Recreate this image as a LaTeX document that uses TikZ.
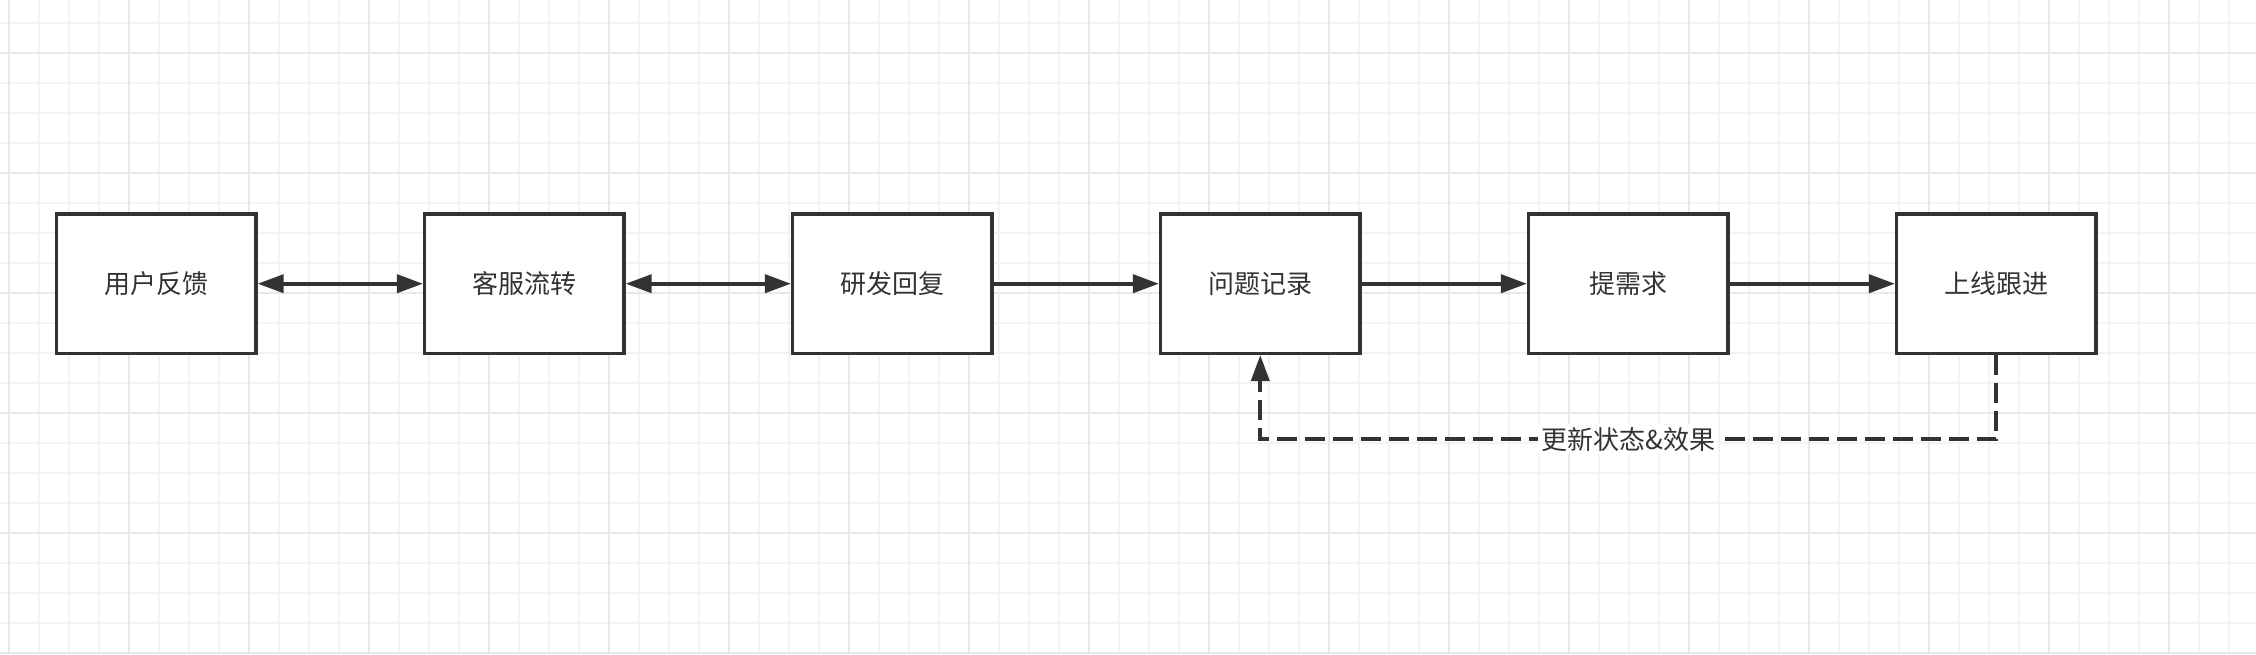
\documentclass[tikz,border=0pt]{standalone}
\usepackage{fontspec}
\setmainfont{Noto Sans CJK SC}
\usetikzlibrary{arrows.meta}

\definecolor{inkgray}{HTML}{333333}
\definecolor{minorline}{RGB}{243,243,243}
\definecolor{majorline}{RGB}{232,232,232}

\tikzset{
  stepbox/.style={draw=inkgray, line width=1.7pt, fill=white,
    minimum width=99.65pt, minimum height=69.65pt, inner sep=0pt,
    text=inkgray, font=\fontsize{13pt}{16pt}\selectfont},
  flow/.style={draw=inkgray, line width=1.9pt,
    -{Triangle[length=13pt,width=9pt]}},
  twoway/.style={flow, {Triangle[length=13pt,width=9pt]}-{Triangle[length=13pt,width=9pt]}},
  back/.style={flow, dash pattern=on 10pt off 4pt},
  minorgrid/.style={draw=minorline, line width=0.8pt},
  majorgrid/.style={draw=majorline, line width=0.9pt}
}

\begin{document}
\begin{tikzpicture}[x=0.5pt, y=-0.5pt]
  % Canvas
  \fill[white] (0,0) rectangle (2256,654);
  \useasboundingbox (0,0) rectangle (2256,654);

  % Grid
  \foreach \x in {9,39,...,2256}
    \draw[minorgrid] (\x,0) -- (\x,654);
  \foreach \y in {22.7,52.7,...,654}
    \draw[minorgrid] (0,\y) -- (2256,\y);
  \foreach \x in {9,129,...,2256}
    \draw[majorgrid] (\x,0) -- (\x,654);
  \foreach \y in {52.7,172.7,...,654}
    \draw[majorgrid] (0,\y) -- (2256,\y);

  % Steps
  \foreach \name/\txt [count=\i] in {fb/用户反馈, cs/客服流转, rd/研发回复,
      rec/问题记录, req/提需求, live/上线跟进}
    \node[stepbox] (\name) at ({156.3+368*(\i-1)},283.7) {\txt};

  % Flow
  \draw[twoway] (fb) -- (cs);
  \draw[twoway] (cs) -- (rd);
  \draw[flow] (rd) -- (rec);
  \draw[flow] (rec) -- (req);
  \draw[flow] (req) -- (live);

  % Feedback loop
  \coordinate (turn) at (live.south |- 0,439.3);
  \draw[back] (live.south) -- (turn) -| (rec.south)
    node[pos=0.25, fill=white, inner sep=1.5pt, text=inkgray,
      font=\fontsize{13pt}{16pt}\selectfont] (upd) {更新状态\&效果};
\end{tikzpicture}
\end{document}
